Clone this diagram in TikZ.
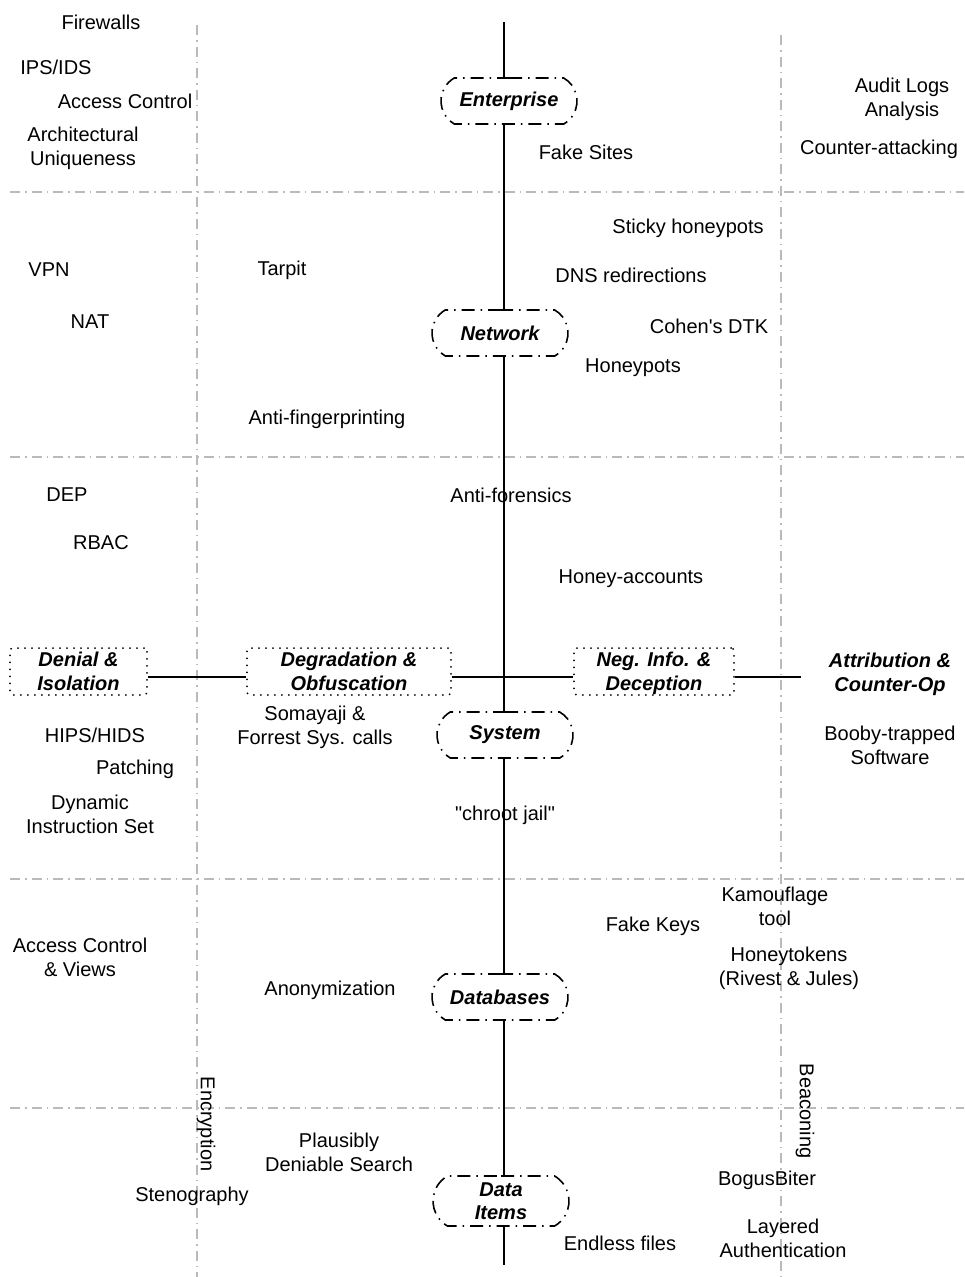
\documentclass[tikz,border=0pt]{standalone}
\usepackage{fontspec}
\setmainfont{Liberation Sans}[Ligatures=TeXOff]
\usetikzlibrary{shapes.misc}
\begin{document}
\begin{tikzpicture}[x=1pt,y=-1pt,
  lbl/.style={font=\fontsize{20}{24}\selectfont, align=center, inner sep=0pt, yshift=-2pt},
  tier/.style={rounded rectangle, rounded rectangle arc length=120, draw, line width=1.6pt,
    dash pattern=on 13pt off 6pt on 1.5pt off 6pt,
    minimum width=136pt, minimum height=46pt, inner sep=0pt, align=center,
    font=\fontsize{20}{24}\selectfont\bfseries\itshape},
  strat/.style={draw, line width=2pt, line cap=round, dash pattern=on 0pt off 7pt,
    rounded corners=3pt, minimum height=47pt, inner sep=0pt, align=center,
    font=\fontsize{20}{24}\selectfont\bfseries\itshape},
  gridline/.style={draw=black!27, line width=1.2pt, dash pattern=on 10pt off 5pt on 1.5pt off 5pt},
  spine/.style={line width=2pt}]
\useasboundingbox (0,0) rectangle (964,1277);

% layer / strategy grid
\foreach \yy in {192,457,879,1108} \draw[gridline] (10,\yy) -- (964,\yy);
\draw[gridline] (197,25) -- (197,1277);
\draw[gridline] (781,35) -- (781,1277);

% tiers on the vertical axis
\node[tier] (ent) at (509,101) {Enterprise};
\node[tier] (net) at (500,333) {Network};
\node[tier] (sys) at (505,735) {System};
\node[tier] (db)  at (500,997) {Databases};
\node[tier, minimum height=50pt] (di) at (501,1201) {Data\\[-1pt]Items};
\coordinate (top) at (504,22);
\coordinate (bot) at (504,1265);

% strategies on the horizontal axis
\node[strat, minimum width=137pt] (den) at (78.5,671.5) {Denial \&\\Isolation};
\node[strat, minimum width=204pt] (deg) at (349,671.5) {Degradation \&\\Obfuscation};
\node[strat, minimum width=160pt] (neg) at (654,671.5) {Neg. Info. \&\\\raisebox{0pt}[\height][0pt]{Deception}};
\node[lbl, font=\fontsize{20}{24}\selectfont\bfseries\itshape, inner xsep=28pt, yshift=2pt] (att) at (890,674) {Attribution \&\\Counter-Op};

% axes
\draw[spine] (top) -- (top |- ent.north);
\draw[spine] (top |- ent.south) -- (top |- net.north);
\draw[spine] (top |- net.south) -- (top |- sys.north);
\draw[spine] (top |- sys.south) -- (top |- db.north);
\draw[spine] (top |- db.south) -- (top |- di.north);
\draw[spine] (top |- di.south) -- (bot);
\draw[spine] ([yshift=-5.5pt]den.east) -- ([yshift=-5.5pt]deg.west);
\draw[spine] ([yshift=-5.5pt]deg.east) -- ([yshift=-5.5pt]neg.west);
\draw[spine] ([yshift=-5.5pt]neg.east) -- ([yshift=-3pt]att.west);

% techniques
\node[lbl] (t1) at (101,20) {Firewalls};
\node[lbl] (t2) at (56,65) {IPS/IDS};
\node[lbl] (t3) at (125,99) {Access Control};
\node[lbl] (t4) at (83,146) {Architectural\\Uniqueness};
\node[lbl] (t5) at (586,150) {Fake Sites};
\node[lbl] (t6) at (902,97) {Audit Logs\\Analysis};
\node[lbl] (t7) at (879,147) {Counter-attacking};
\node[lbl] (t8) at (688,226) {Sticky honeypots};
\node[lbl] (t9) at (49,268) {VPN};
\node[lbl] (t10) at (282,268) {Tarpit};
\node[lbl] (t11) at (631,273) {DNS redirections};
\node[lbl] (t12) at (90,320) {NAT};
\node[lbl] (t13) at (709,324) {Cohen's DTK};
\node[lbl] (t14) at (633,366) {Honeypots};
\node[lbl] (t15) at (327,417) {Anti-fingerprinting};
\node[lbl] (t16) at (67,493) {DEP};
\node[lbl] (t17) at (511,493) {Anti-forensics};
\node[lbl] (t18) at (101,541) {RBAC};
\node[lbl] (t19) at (631,577) {Honey-accounts};
\node[lbl] (t20) at (315,725) {Somayaji \&\\Forrest Sys. calls};
\node[lbl] (t21) at (95,733) {HIPS/HIDS};
\node[lbl] (t22) at (890,743) {Booby-trapped\\Software};
\node[lbl] (t23) at (135,767) {Patching};
\node[lbl] (t24) at (90,812) {Dynamic\\Instruction Set};
\node[lbl] (t25) at (505,813) {"chroot jail"};
\node[lbl] (t26) at (775,904) {Kamouflage\\tool};
\node[lbl] (t27) at (653,924) {Fake Keys};
\node[lbl] (t28) at (80,955) {Access Control\\\& Views};
\node[lbl] (t29) at (789,966) {Honeytokens\\(Rivest \& Jules)};
\node[lbl] (t30) at (330,988) {Anonymization};
\node[lbl, rotate=-90, xshift=2pt, yshift=2pt] (t31) at (204,1120) {Encryption};
\node[lbl, rotate=-90, xshift=2pt, yshift=2pt] (t32) at (803,1107) {Beaconing};
\node[lbl] (t33) at (339,1150) {Plausibly\\Deniable Search};
\node[lbl] (t34) at (192,1194) {Stenography};
\node[lbl] (t35) at (767,1178) {BogusBiter};
\node[lbl] (t36) at (783,1236) {Layered\\Authentication};
\node[lbl] (t37) at (620,1241) {Endless files};
\end{tikzpicture}
\end{document}
